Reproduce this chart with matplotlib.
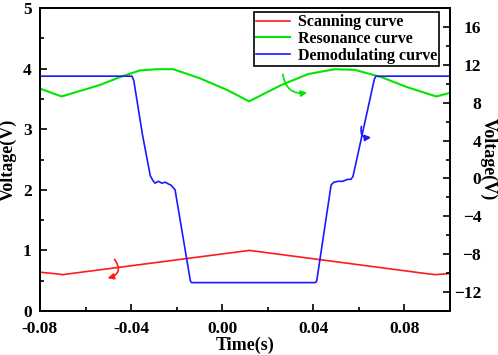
import matplotlib
matplotlib.use("Agg")
import matplotlib.pyplot as plt
from matplotlib.patches import FancyArrowPatch
from matplotlib.ticker import MultipleLocator

plt.rcParams['font.family'] = ['Liberation Serif', 'DejaVu Serif']
plt.rcParams['font.weight'] = 'bold'

# Scanning curve (left axis, V)
scan_t = [-0.08, -0.072, -0.07, -0.068, 0.012, 0.090, 0.0935, 0.097, 0.1]
scan_v = [0.64, 0.61, 0.60, 0.61, 1.00, 0.615, 0.60, 0.61, 0.62]

# Resonance curve (left axis, V)
res_t = [-0.08, -0.0705, -0.0537, -0.0449, -0.0361, -0.0288, -0.0215, -0.0098, 0.002, 0.0118,
         0.026, 0.0377, 0.0494, 0.0581, 0.0698, 0.0815, 0.094, 0.1]
res_v = [3.67, 3.54, 3.73, 3.86, 3.97, 3.99, 3.99, 3.84, 3.65, 3.46,
         3.73, 3.91, 3.99, 3.98, 3.86, 3.69, 3.54, 3.60]

# Demodulating curve (right axis, V)
dem_t = [-0.08, -0.0396, -0.0388, -0.035, -0.0316, -0.0305, -0.0295, -0.028, -0.0265, -0.025,
         -0.0235, -0.0225, -0.0207, -0.0140, -0.0135, 0.0410, 0.0415, 0.0478, 0.0490,
         0.0510, 0.0530, 0.0550, 0.0565, 0.0574, 0.0668, 0.0675, 0.1]
dem_v = [10.8, 10.8, 10.3, 4.6, 0.3, -0.2, -0.5, -0.3, -0.5, -0.4,
         -0.6, -0.7, -1.2, -10.8, -11.0, -11.0, -10.8, -0.7, -0.4,
         -0.3, -0.3, -0.1, -0.1, 0.2, 10.5, 10.8, 10.8]

red = '#ff1a1a'
green = '#00e600'
blue = '#1a1aff'

fig = plt.figure(figsize=(4.98, 3.55), dpi=100)
ax = fig.add_axes([40/498, 44/355, 410/498, 303/355])
ax2 = ax.twinx()

l1, = ax.plot(scan_t, scan_v, color=red, lw=1.2, label='Scanning curve')
l2, = ax.plot(res_t, res_v, color=green, lw=1.5, label='Resonance curve')
l3, = ax2.plot(dem_t, dem_v, color=blue, lw=1.2, label='Demodulating curve')

ax.set_xlim(-0.08, 0.1)
ax.set_ylim(0, 5)
ax2.set_ylim(-14, 18)

ax.xaxis.set_major_locator(MultipleLocator(0.04))
ax.xaxis.set_minor_locator(MultipleLocator(0.02))
ax.yaxis.set_major_locator(MultipleLocator(1))
ax.yaxis.set_minor_locator(MultipleLocator(0.5))
ax2.yaxis.set_major_locator(MultipleLocator(4))
ax2.yaxis.set_minor_locator(MultipleLocator(2))
ax.set_xticks([-0.08, -0.04, 0.0, 0.04, 0.08])
ax.set_xticklabels(['-0.08', '-0.04', '0.00', '0.04', '0.08'])

for a in (ax, ax2):
    a.tick_params(which='both', direction='in', labelsize=12.5, width=1.2)
    a.tick_params(which='major', length=5)
    a.tick_params(which='minor', length=3)
    for s in a.spines.values():
        s.set_linewidth(1.3)
ax.tick_params(axis='x', pad=7)
ax.tick_params(axis='y', pad=6)
ax2.tick_params(axis='y', pad=22.5)
for lab in ax2.get_yticklabels():
    lab.set_horizontalalignment('right')

ax.set_xlabel('Time(s)', fontsize=13, fontweight='bold', labelpad=0)
ax.set_ylabel('Voltage(V)', fontsize=13, fontweight='bold', va='center')
ax.yaxis.set_label_coords(-0.077, 0.5)
ax2.set_ylabel('Voltage(V)', fontsize=13, fontweight='bold', rotation=270, va='center')
ax2.yaxis.set_label_coords(1.095, 0.5)

leg = ax.legend(handles=[l1, l2, l3], loc='upper right', bbox_to_anchor=(0.982, 0.998),
                prop={'size': 11.5, 'weight': 'bold'}, frameon=True, fancybox=False,
                edgecolor='black', framealpha=1, borderpad=0.15, labelspacing=0.05,
                handlelength=2.1, handletextpad=0.5, borderaxespad=0.2)
leg.get_frame().set_linewidth(1.2)
leg.set_zorder(10)

def curl(a, b, rad, color):
    p = FancyArrowPatch(a, b, connectionstyle=f'arc3,rad={rad}', arrowstyle='-|>',
                        mutation_scale=9, color=color, lw=1.2, transform=ax.transData)
    ax.add_patch(p)

curl((-0.048, 0.89), (-0.0515, 0.53), -0.8, red)
curl((0.0265, 3.95), (0.0385, 3.61), 0.55, green)
curl((0.0614, 3.09), (0.0666, 2.87), 0.8, blue)

fig.savefig('out.png', dpi=100)
